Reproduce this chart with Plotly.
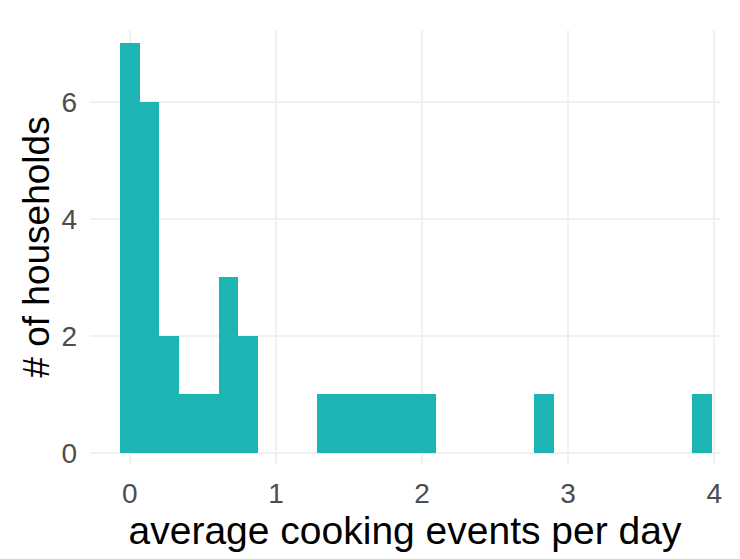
import plotly.graph_objects as go

# histogram bins (bin midpoints) and household counts
bin_mid = [0.0, 0.135, 0.27, 0.405, 0.54, 0.675, 0.81,
           1.35, 1.485, 1.62, 1.755, 1.89, 2.025,
           2.835, 3.915]
households = [7, 6, 2, 1, 1, 3, 2,
              1, 1, 1, 1, 1, 1,
              1, 1]
bin_width = 0.135

x_ticks = [0, 1, 2, 3, 4]
y_ticks = [0, 2, 4, 6]

fig = go.Figure(go.Bar(
    x=bin_mid,
    y=households,
    width=bin_width,
    marker=dict(color="#1db4b4", line=dict(width=0)),
))

# page body adds an 8px offset, so margins are pulled in by 8px
fig.update_layout(
    width=740,
    height=559,
    margin=dict(l=82, r=28, t=22, b=103, autoexpand=False),
    plot_bgcolor="white",
    paper_bgcolor="white",
    font=dict(family="Liberation Sans, Arial, sans-serif"),
    showlegend=False,
    bargap=0,
)

fig.update_xaxes(
    range=[-0.273, 4.04],
    tickvals=x_ticks,
    tickfont=dict(size=28, color="#4d4d4d"),
    ticklabelstandoff=10,
    title=dict(text="average cooking events per day",
               font=dict(size=39, color="black"), standoff=0),
    automargin=False,
    showgrid=True,
    gridcolor="#f0f0f0",
    gridwidth=1.5,
    zeroline=False,
    showline=False,
    ticks="",
)

fig.update_yaxes(
    range=[-0.188, 7.23],
    tickvals=y_ticks,
    tickfont=dict(size=28, color="#4d4d4d"),
    ticklabelstandoff=12,
    title=dict(text="# of households",
               font=dict(size=37, color="black"), standoff=0),
    automargin=False,
    showgrid=True,
    gridcolor="#f0f0f0",
    gridwidth=1.5,
    zeroline=False,
    showline=False,
    ticks="",
)

fig.write_html("out.html")
